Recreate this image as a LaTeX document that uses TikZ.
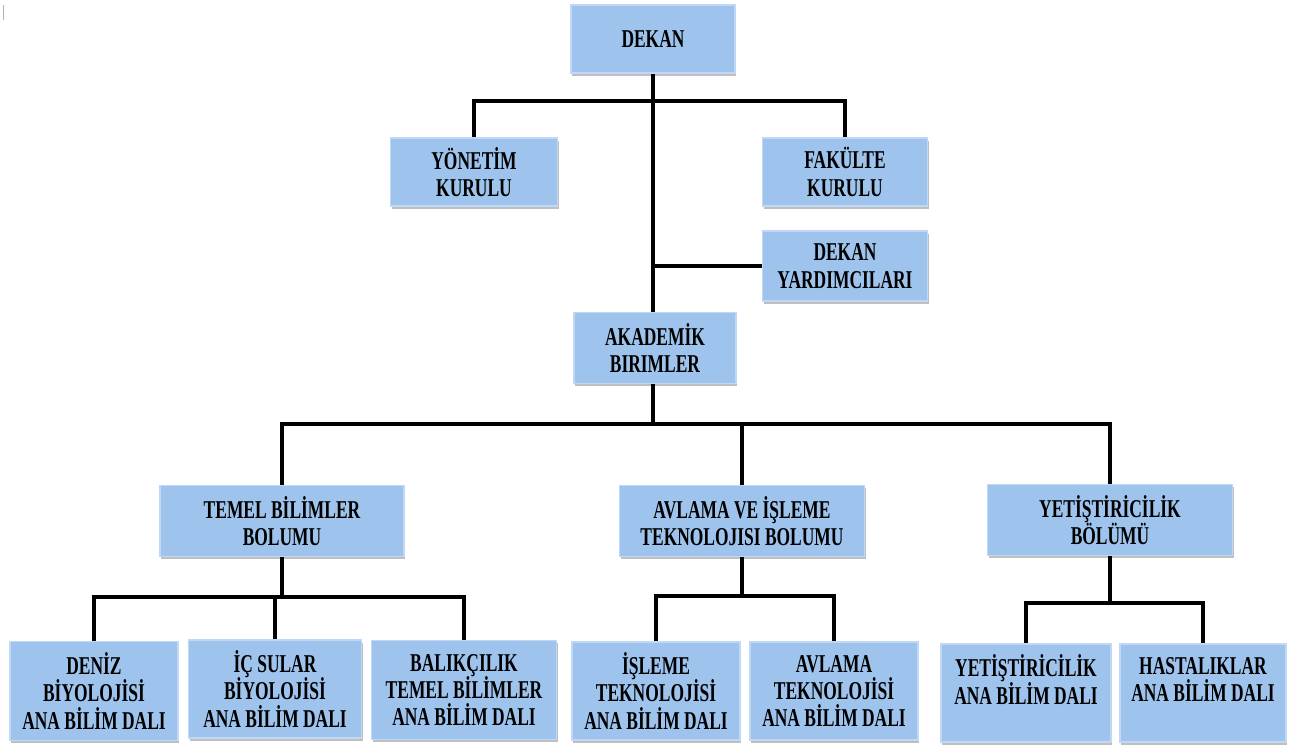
\documentclass[tikz,border=0pt]{standalone}
\usepackage{fontspec}
\setmainfont{Liberation Serif}[FakeStretch=0.68]
\usepackage{xcolor}
\usetikzlibrary{shadows}
\definecolor{boxblue}{RGB}{158,196,238}
\definecolor{boxedge}{RGB}{192,216,246}

\begin{document}
\begin{tikzpicture}[x=0.02cm,y=-0.02cm,
            unit/.style = {rectangle,
            fill=boxblue,
            draw=boxedge,
            line width=1pt,
            drop shadow={shadow xshift=0.6pt,shadow yshift=-1.6pt,fill=black!50},
            align=center,
            inner sep=2pt,
            font=\bfseries\fontsize{14.6}{15.6}\selectfont},
            link/.style = {line width=2.2pt, black}]
        \useasboundingbox (0,0) rectangle (1294,748);
        \draw[gray!60, line width=0.5pt] (3,5) -- (3,20);

        % Dekan
        \node[unit, minimum width=164*0.02cm, minimum height=68*0.02cm] (dekan) at (653,39) {DEKAN};

        % Kurullar
        \node[unit, minimum width=167*0.02cm, minimum height=68*0.02cm] (yonetim) at (474,172) {YÖNETİM\\KURULU};
        \node[unit, minimum width=165*0.02cm, minimum height=68*0.02cm] (fakulte) at (845,172) {FAKÜLTE\\KURULU};
        \node[unit, minimum width=165*0.02cm, minimum height=70*0.02cm] (yardimci) at (845,266) {DEKAN\\YARDIMCILARI};

        % Akademik birimler
        \node[unit, minimum width=162*0.02cm, minimum height=71*0.02cm] (akademik) at (655,348) {AKADEMİK\\BIRIMLER};

        % Bolumler
        \node[unit, minimum width=244*0.02cm, minimum height=71*0.02cm] (temel) at (282,521) {TEMEL BİLİMLER\\BOLUMU};
        \node[unit, minimum width=245*0.02cm, minimum height=71*0.02cm] (avlama) at (742,521) {AVLAMA VE İŞLEME\\TEKNOLOJISI BOLUMU};
        \node[unit, minimum width=245*0.02cm, minimum height=71*0.02cm] (yetis) at (1110,520) {YETİŞTİRİCİLİK\\BÖLÜMÜ};

        % Ana bilim dallari
        \node[unit, minimum width=168*0.02cm, minimum height=99*0.02cm] (deniz) at (94,691) {DENİZ\\BİYOLOJİSİ\\ANA BİLİM DALI};
        \node[unit, minimum width=173*0.02cm, minimum height=98*0.02cm] (icsular) at (275,689) {İÇ SULAR\\BİYOLOJİSİ\\ANA BİLİM DALI};
        \node[unit, minimum width=185*0.02cm, minimum height=99*0.02cm] (balik) at (464,690) {BALIKÇILIK\\TEMEL BİLİMLER\\ANA BİLİM DALI};
        \node[unit, minimum width=168*0.02cm, minimum height=98*0.02cm] (isleme) at (656,691) {İŞLEME\\TEKNOLOJİSİ\\ANA BİLİM DALI};
        \node[unit, minimum width=168*0.02cm, minimum height=98*0.02cm] (avtek) at (834,691) {AVLAMA\\TEKNOLOJİSİ\\ANA BİLİM DALI};
        \node[unit, minimum width=170*0.02cm, minimum height=98*0.02cm] (yetab) at (1026,693) {YETİŞTİRİCİLİK\\ANA BİLİM DALI\\~};
        \node[unit, minimum width=166*0.02cm, minimum height=98*0.02cm] (hasta) at (1203,693) {HASTALIKLAR\\ANA BİLİM DALI\\~};

        % Bar levels
        \coordinate (bar1) at (653,101);
        \coordinate (bar2) at (653,424);
        \coordinate (bar3) at (282,597);
        \coordinate (bar4) at (742,596);
        \coordinate (bar5) at (1110,603);

        % Connectors
        \draw[link] (dekan.south) -- (dekan.south |- akademik.north);
        \draw[link] (yonetim.north) |- (bar1) -| (fakulte.north);
        \draw[link] (yardimci.west) -- (yardimci.west -| dekan.south);
        \draw[link] (akademik.south -| bar2) -- (bar2);
        \draw[link] (temel.north) |- (bar2) -| (yetis.north);
        \draw[link] (avlama.north) -- (avlama.north |- bar2);
        \draw[link] (temel.south) -- (bar3);
        \draw[link] (deniz.north) |- (bar3) -| (balik.north);
        \draw[link] (icsular.north) -- (icsular.north |- bar3);
        \draw[link] (avlama.south) -- (bar4);
        \draw[link] (isleme.north) |- (bar4) -| (avtek.north);
        \draw[link] (yetis.south) -- (bar5);
        \draw[link] (yetab.north) |- (bar5) -| (hasta.north);
    \end{tikzpicture}
\end{document}
